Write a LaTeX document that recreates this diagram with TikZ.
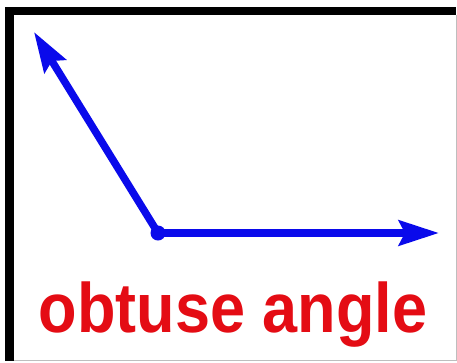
\documentclass[tikz,border=0pt]{standalone}
\usepackage{fontspec}
\setmainfont{Liberation Sans}
\usetikzlibrary{arrows.meta}
\definecolor{rayblue}{RGB}{10, 10, 235}
\definecolor{labelred}{RGB}{228, 12, 20}
\definecolor{edgegray}{RGB}{190, 190, 190}

\begin{document}
\begin{tikzpicture}[x=1pt, y=-1pt,
    ray/.style={rayblue, line width=7.5pt, -{Stealth[length=40pt, width=25pt, inset=6pt]}}]
  \useasboundingbox (0,0) rectangle (457,362);
  \fill[white] (0,0) rectangle (457,362);

  % frame
  \fill[black] (5,7) rectangle (456,15);
  \fill[black] (5,7) rectangle (14,361);
  \draw[edgegray, line width=1pt] (456,15) -- (456,360) -- (14,360);

  % angle
  \coordinate (vertex) at (158,233);
  \coordinate (armA) at (439,233);
  \coordinate (armB) at (34,32);
  \draw[ray] (vertex) -- (armA);
  \draw[ray] (vertex) -- (armB);
  \fill[rayblue] (vertex) circle (7.5pt);

  \node[anchor=base, labelred, font=\fontsize{70}{70}\selectfont\bfseries, xscale=0.9, inner sep=0pt] (label) at (233,332) {obtuse angle};
\end{tikzpicture}
\end{document}
